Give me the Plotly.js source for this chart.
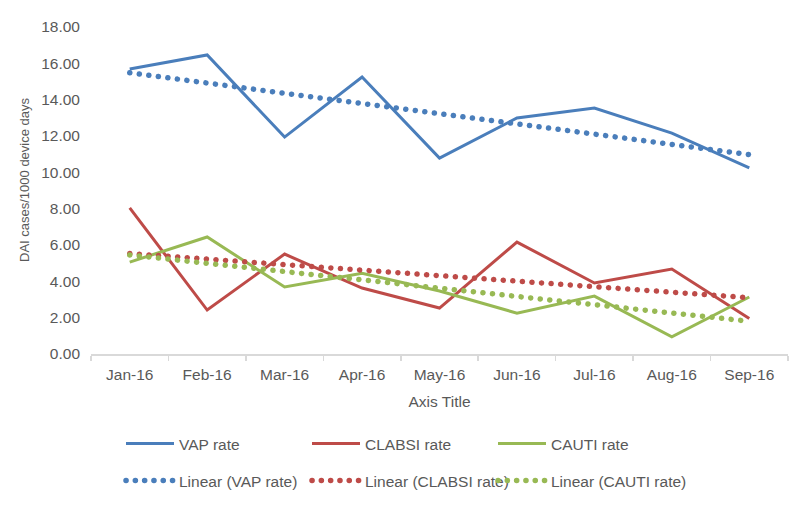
<!DOCTYPE html>
<html>
<head>
<meta charset="utf-8">
<script src="https://cdn.plot.ly/plotly-3.0.1.min.js"></script>
<style>
  html, body { margin: 0; padding: 0; background: #ffffff; }
  #chart { width: 806px; height: 517px; }
</style>
</head>
<body>
<div id="chart"></div>
<script>
// ---- data ----
const months = ["Jan-16", "Feb-16", "Mar-16", "Apr-16", "May-16", "Jun-16", "Jul-16", "Aug-16", "Sep-16"];
const vapRate    = [15.69, 16.46, 11.94, 15.25, 10.78, 12.99, 13.54, 12.16, 10.24];
const clabsiRate = [8.04, 2.42, 5.50, 3.63, 2.53, 6.16, 3.91, 4.68, 1.95];
const cautiRate  = [5.06, 6.44, 3.69, 4.44, 3.47, 2.25, 3.19, 0.94, 3.14];
const seriesNames = ["VAP rate", "CLABSI rate", "CAUTI rate"];
const yTickVals = [0, 2, 4, 6, 8, 10, 12, 14, 16, 18];

// least-squares linear trendline (as Excel's "Linear (...)" trendline)
function linearTrend(vals) {
  const n = vals.length;
  let sx = 0, sy = 0, sxx = 0, sxy = 0;
  vals.forEach((v, i) => { sx += i; sy += v; sxx += i * i; sxy += i * v; });
  const b = (n * sxy - sx * sy) / (n * sxx - sx * sx);
  const a = (sy - b * sx) / n;
  return vals.map((_, i) => a + b * i);
}

const colors = ["#4A7EBB", "#BE4B48", "#98B954"];
const allSeries = [vapRate, clabsiRate, cautiRate];
const FONT = "Liberation Sans, Arial, sans-serif";
const TXT = "#595959";

const traces = [];
allSeries.forEach((vals, k) => {
  traces.push({
    x: months, y: vals, type: "scatter", mode: "lines",
    name: seriesNames[k], legend: "legend",
    line: { color: colors[k], width: 3 },
    hoverinfo: "skip"
  });
});
allSeries.forEach((vals, k) => {
  const t = {
    x: months, y: linearTrend(vals), type: "scatter", mode: "lines",
    name: "Linear (" + seriesNames[k] + ")", legend: "legend2",
    line: { color: colors[k], width: 5.5, dash: "1px,8.5px" },
    hoverinfo: "skip"
  };
  if (k === 2) t.legendwidth = 160;
  traces.push(t);
});

const legendCommon = {
  orientation: "h", xref: "container", yref: "container",
  xanchor: "left", yanchor: "middle",
  font: { family: FONT, size: 15.5, color: TXT },
  itemwidth: 48,
  entrywidth: 123, entrywidthmode: "pixels",
  bgcolor: "rgba(0,0,0,0)", borderwidth: 0, traceorder: "normal"
};

const layout = {
  width: 806, height: 517,
  margin: { l: 91, r: 18, t: 27, b: 163 },
  paper_bgcolor: "#ffffff", plot_bgcolor: "#ffffff",
  font: { family: FONT, size: 15.5, color: TXT },
  showlegend: true,
  xaxis: {
    type: "category",
    range: [-0.5, 8.5],
    showgrid: false, zeroline: false,
    showline: true, linecolor: "#D9D9D9", linewidth: 1.5,
    ticks: "outside", tickson: "boundaries", ticklen: 5, tickcolor: "#D9D9D9", tickwidth: 1.5,
    ticklabelstandoff: 6,
    tickfont: { family: FONT, size: 15.5, color: TXT },
    title: { text: "Axis Title", font: { family: FONT, size: 15.5, color: TXT }, standoff: 14 },
    fixedrange: true
  },
  yaxis: {
    range: [0, 18],
    tickvals: yTickVals, tickformat: ".2f",
    showgrid: false, zeroline: false, showline: false,
    ticks: "", ticklabelstandoff: 10,
    tickfont: { family: FONT, size: 15.5, color: TXT },
    fixedrange: true
  },
  annotations: [{
    text: "DAI cases/1000 device days",
    textangle: -90,
    xref: "paper", yref: "paper",
    x: (24 - 91) / 697, y: (354 - 180) / 327,
    xanchor: "center", yanchor: "middle",
    showarrow: false,
    font: { family: FONT, size: 13, color: TXT }
  }],
  legend: Object.assign({}, legendCommon, { x: 121 / 806, y: 1 - 444 / 517 }),
  legend2: Object.assign({}, legendCommon, { x: 121 / 806, y: 1 - 481 / 517 })
};

Plotly.newPlot("chart", traces, layout, { staticPlot: true, displayModeBar: false }).then(function (gd) {
  // round caps so the dotted trendlines look like Excel's round dots
  gd.querySelectorAll(".scatterlayer .trace").forEach(function (tr, i) {
    if (i >= 3) {
      tr.querySelectorAll("path.js-line").forEach(function (p) {
        p.style.strokeLinecap = "round";
        p.style.strokeDasharray = "0.1px,9.5px";
      });
    }
  });
  gd.querySelectorAll("g.legend2 path.js-line").forEach(function (p) {
    p.style.strokeLinecap = "round";
    p.style.strokeDasharray = "0.1px,9.2px";
  });
});
</script>
</body>
</html>
